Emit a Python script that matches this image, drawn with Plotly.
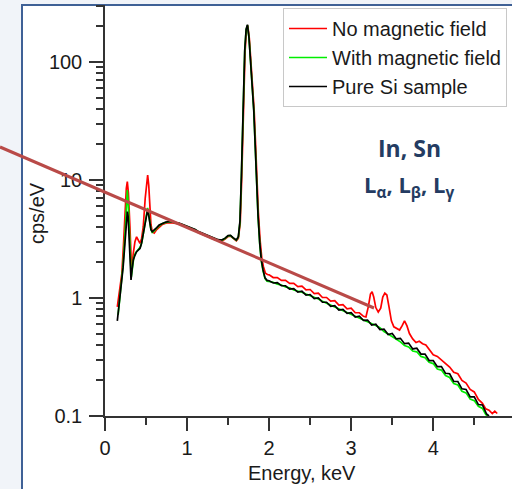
import plotly.graph_objects as go

# ---------------- data ----------------
si_energy = [0.15, 0.18, 0.20, 0.22, 0.243, 0.26, 0.272, 0.282, 0.292, 0.305, 0.317, 0.33, 0.345,
             0.365, 0.385, 0.405, 0.426, 0.445, 0.466, 0.49, 0.507, 0.52, 0.533, 0.547, 0.56, 0.576,
             0.60, 0.63, 0.66, 0.70, 0.74, 0.78, 0.82, 0.86, 0.90, 0.94, 0.98, 1.02, 1.06, 1.10,
             1.14, 1.18, 1.22, 1.26, 1.30, 1.34, 1.38, 1.42, 1.46, 1.50, 1.53, 1.56, 1.60, 1.625,
             1.645, 1.662, 1.683, 1.703, 1.72, 1.736, 1.755, 1.77, 1.785, 1.80, 1.813, 1.83, 1.845,
             1.865, 1.886, 1.905, 1.926, 1.95, 1.975,
             2.00, 2.05, 2.10, 2.15, 2.20, 2.25, 2.30, 2.35, 2.40, 2.45, 2.50, 2.55, 2.60, 2.65,
             2.70, 2.75, 2.80, 2.85, 2.90, 2.95, 3.00, 3.05, 3.10, 3.15, 3.20, 3.25, 3.30, 3.35,
             3.40, 3.45, 3.50, 3.55, 3.60, 3.65, 3.70, 3.75, 3.80, 3.85, 3.90, 3.95, 4.00, 4.05,
             4.10, 4.15, 4.20, 4.25, 4.30, 4.35, 4.40, 4.45, 4.50, 4.55, 4.60, 4.65, 4.68]
si_cps = [0.64, 0.95, 1.25, 1.8, 2.9, 4.3, 5.4, 4.9, 3.5, 2.2, 1.42, 1.75, 2.1,
          2.3, 2.47, 2.55, 2.63, 2.9, 3.5, 4.4, 5.2, 5.6, 5.0, 4.15, 3.8, 3.65,
          3.75, 3.95, 4.15, 4.3, 4.4, 4.45, 4.42, 4.38, 4.32, 4.22, 4.12, 4.02, 3.92, 3.8,
          3.65, 3.55, 3.45, 3.35, 3.25, 3.18, 3.12, 3.1, 3.2, 3.38, 3.4, 3.25, 3.1, 3.3,
          4.5, 10.7, 39, 126, 190, 207, 160, 110, 75, 52, 39, 20, 10.7,
          5.0, 2.9, 2.1, 1.73, 1.48, 1.41,
          1.40, 1.34, 1.35, 1.27, 1.27, 1.19, 1.20, 1.12, 1.14, 1.06, 1.07, 0.99, 1.00, 0.92,
          0.92, 0.85, 0.86, 0.79, 0.80, 0.74, 0.75, 0.69, 0.70, 0.645, 0.65, 0.59, 0.60, 0.54,
          0.545, 0.49, 0.50, 0.45, 0.455, 0.41, 0.415, 0.37, 0.375, 0.335, 0.335, 0.295, 0.295, 0.262,
          0.262, 0.23, 0.228, 0.196, 0.196, 0.17, 0.168, 0.145, 0.145, 0.125, 0.124, 0.104, 0.100]

mag_energy = [0.16, 0.18, 0.20, 0.22, 0.243, 0.26, 0.272, 0.285, 0.298, 0.31, 0.32, 0.335, 0.35,
              0.37, 0.39, 0.41, 0.43, 0.45, 0.47, 0.49, 0.507, 0.52, 0.533, 0.547, 0.56, 0.576,
              0.60, 0.63, 0.66, 0.70, 0.74, 0.78, 0.82, 0.86, 0.90, 0.94, 0.98, 1.02, 1.06, 1.10,
              1.14, 1.18, 1.22, 1.26, 1.30, 1.34, 1.38, 1.42, 1.46, 1.50, 1.53, 1.56, 1.60, 1.625,
              1.645, 1.662, 1.683, 1.703, 1.72, 1.736, 1.755, 1.77, 1.785, 1.80, 1.813, 1.83, 1.845,
              1.865, 1.886, 1.905, 1.926, 1.95, 1.975,
              2.00, 2.05, 2.10, 2.15, 2.20, 2.25, 2.30, 2.35, 2.40, 2.45, 2.50, 2.55, 2.60, 2.65,
              2.70, 2.75, 2.80, 2.85, 2.90, 2.95, 3.00, 3.05, 3.10, 3.15, 3.20, 3.25, 3.30, 3.35,
              3.40, 3.45, 3.50, 3.55, 3.60, 3.65, 3.70, 3.75, 3.80, 3.85, 3.90, 3.95, 4.00, 4.05,
              4.10, 4.15, 4.20, 4.25, 4.30, 4.35, 4.40, 4.45, 4.50, 4.55, 4.60, 4.64, 4.66]
mag_cps = [0.72, 0.98, 1.3, 1.9, 3.4, 5.8, 8.2, 6.0, 3.2, 1.9, 1.5, 1.8, 2.2,
           2.4, 2.5, 2.6, 2.7, 3.0, 3.6, 4.5, 5.4, 5.8, 5.1, 4.2, 3.8, 3.6,
           3.7, 3.9, 4.1, 4.28, 4.38, 4.43, 4.40, 4.36, 4.3, 4.2, 4.1, 4.0, 3.9, 3.78,
           3.63, 3.53, 3.43, 3.33, 3.23, 3.16, 3.1, 3.08, 3.18, 3.36, 3.38, 3.23, 3.08, 3.28,
           4.4, 10.5, 38, 124, 188, 205, 160, 110, 75, 52, 39, 20, 10.5,
           4.9, 2.85, 2.05, 1.7, 1.46, 1.39,
           1.38, 1.36, 1.31, 1.29, 1.24, 1.22, 1.17, 1.15, 1.12, 1.08, 1.05, 1.01, 0.98, 0.94,
           0.90, 0.87, 0.84, 0.81, 0.78, 0.76, 0.73, 0.71, 0.68, 0.66, 0.63, 0.61, 0.585, 0.56,
           0.52, 0.495, 0.47, 0.44, 0.425, 0.395, 0.385, 0.355, 0.35, 0.32, 0.312, 0.285, 0.278, 0.25,
           0.245, 0.22, 0.212, 0.188, 0.183, 0.162, 0.157, 0.139, 0.135, 0.121, 0.116, 0.103, 0.100]

nomag_energy = [0.15, 0.18, 0.205, 0.225, 0.243, 0.26, 0.272, 0.285, 0.304, 0.324, 0.345, 0.365,
                0.385, 0.405, 0.426, 0.446, 0.466, 0.49, 0.507, 0.52, 0.533, 0.547, 0.56, 0.576,
                0.60, 0.63, 0.66, 0.70, 0.74, 0.78, 0.82, 0.86, 0.90, 0.94, 0.98, 1.02, 1.06, 1.10,
                1.14, 1.18, 1.22, 1.26, 1.30, 1.34, 1.38, 1.42, 1.46, 1.50, 1.53, 1.56, 1.60, 1.625,
                1.648, 1.666, 1.687, 1.707, 1.724, 1.740, 1.759, 1.774, 1.789, 1.804, 1.817, 1.834,
                1.849, 1.869, 1.89, 1.91, 1.93, 1.955, 1.98,
                2.00, 2.05, 2.10, 2.15, 2.20, 2.25, 2.30, 2.35, 2.40, 2.45, 2.50, 2.55, 2.60, 2.65,
                2.70, 2.75, 2.80, 2.85, 2.90, 2.95, 3.00, 3.05, 3.10, 3.15, 3.18, 3.21, 3.235, 3.255,
                3.275, 3.30, 3.33, 3.36, 3.385, 3.41, 3.435, 3.46, 3.49, 3.52, 3.56, 3.59, 3.62, 3.65,
                3.68, 3.71, 3.75, 3.79, 3.83, 3.87, 3.91, 3.95, 4.00, 4.05, 4.10, 4.15, 4.20, 4.25,
                4.30, 4.35, 4.40, 4.45, 4.50, 4.55, 4.60, 4.64, 4.68, 4.72, 4.75, 4.78]
nomag_cps = [0.84, 1.17, 1.6, 2.8, 5.6, 8.5, 9.7, 7.8, 4.0, 1.73, 2.4, 3.0,
             3.3, 3.1, 2.9, 3.2, 4.0, 7.0, 10.0, 11.0, 9.0, 5.6, 4.2, 3.65,
             3.55, 3.8, 4.0, 4.2, 4.3, 4.35, 4.32, 4.3, 4.25, 4.15, 4.05, 3.95, 3.85, 3.72,
             3.58, 3.48, 3.38, 3.28, 3.18, 3.12, 3.06, 3.04, 3.14, 3.32, 3.34, 3.2, 3.05, 3.2,
             4.3, 10.2, 37, 122, 186, 203, 158, 110, 76, 53, 40, 21, 11.2,
             5.3, 3.1, 2.2, 1.85, 1.62, 1.58,
             1.57, 1.49, 1.49, 1.41, 1.41, 1.33, 1.33, 1.25, 1.26, 1.17, 1.18, 1.09, 1.10, 1.01,
             1.01, 0.94, 0.95, 0.87, 0.88, 0.81, 0.82, 0.75, 0.75, 0.70, 0.69, 0.85, 1.08, 1.13,
             1.02, 0.83, 0.76, 0.82, 1.02, 1.10, 1.06, 0.85, 0.64, 0.57, 0.55, 0.535, 0.58, 0.64,
             0.58, 0.50, 0.45, 0.42, 0.43, 0.41, 0.40, 0.37, 0.33, 0.32, 0.30, 0.28, 0.26, 0.235,
             0.228, 0.2, 0.19, 0.168, 0.16, 0.138, 0.128, 0.115, 0.112, 0.105, 0.11, 0.105]

series_names = ["No magnetic field", "With magnetic field", "Pure Si sample"]
series_colors = ["#ff0000", "#00ee00", "#000000"]

y_tick_vals = [0.1, 1, 10, 100]
y_tick_text = ["0.1", "1", "10", "100"]
y_minor_vals = [m * d for d in (0.1, 1, 10, 100) for m in range(2, 10) if m * d < 310]
x_tick_vals = [0, 1, 2, 3, 4, 5]
x_minor_vals = [0.5, 1.5, 2.5, 3.5, 4.5]

# ---------------- figure ----------------
W, H = 512, 489
L, R, T, B = 105, 0, 5, 73
pw, ph = W - L - R, H - T - B


def px(x):
    return (x - L) / pw


def py(y):
    return (H - B - y) / ph


fig = go.Figure()
for name, color, xs, ys in zip(series_names, series_colors,
                               [nomag_energy, mag_energy, si_energy],
                               [nomag_cps, mag_cps, si_cps]):
    fig.add_trace(go.Scatter(x=xs, y=ys, mode="lines", name=name,
                             line=dict(color=color, width=1.7)))

font_main = "Liberation Sans, Arial, sans-serif"
axis_col = "#333333"

fig.update_layout(
    width=W, height=H,
    margin=dict(l=L, r=R, t=T, b=B, pad=0),
    paper_bgcolor="#f1f4f9",
    plot_bgcolor="white",
    font=dict(family=font_main, size=20, color="#1a1a1a"),
    showlegend=True,
    legend=dict(x=px(283), y=py(8), xanchor="left", yanchor="top",
                bgcolor="white", bordercolor="#c8c8c8", borderwidth=1,
                itemwidth=38,
                font=dict(family=font_main, size=20, color="#1a1a1a"),
                tracegroupgap=0),
    xaxis=dict(range=[0, 4.96], showgrid=False, zeroline=False, automargin=False,
               showline=True, linecolor=axis_col, linewidth=1.5,
               tickmode="array", tickvals=x_tick_vals, ticktext=[str(v) for v in x_tick_vals],
               ticks="outside", ticklen=13, tickwidth=1.5, tickcolor=axis_col,
               minor=dict(tickmode="array", tickvals=x_minor_vals, ticks="outside",
                          ticklen=7, tickwidth=1.5, tickcolor=axis_col, showgrid=False),
               tickfont=dict(size=20)),
    yaxis=dict(type="log", range=[-1, 2.483], showgrid=False, zeroline=False, automargin=False,
               showline=True, linecolor=axis_col, linewidth=1.5,
               tickmode="array", tickvals=y_tick_vals, ticktext=y_tick_text,
               ticks="outside", ticklen=14, tickwidth=1.5, tickcolor=axis_col,
               ticklabelstandoff=3,
               minor=dict(tickmode="array", tickvals=y_minor_vals, ticks="outside",
                          ticklen=7, tickwidth=1.5, tickcolor=axis_col, showgrid=False),
               tickfont=dict(size=20)),
)

# slide frame (blue border, white inside)
fig.add_shape(type="rect", xref="paper", yref="paper",
              x0=px(22), x1=px(530), y0=py(520), y1=py(5),
              line=dict(color="#3f6196", width=2), fillcolor="white", layer="below")

# diagonal slide line
fig.add_shape(type="line", xref="paper", yref="paper",
              x0=px(0), y0=py(147), x1=px(374), y1=py(308),
              line=dict(color="#b94a48", width=3), layer="above")

# axis titles
fig.add_annotation(text="cps/eV", xref="paper", yref="paper", x=px(37), y=py(213),
                   showarrow=False, textangle=-90, xanchor="center", yanchor="middle",
                   font=dict(family=font_main, size=20, color="#1a1a1a"))
fig.add_annotation(text="Energy, keV", xref="paper", yref="paper", x=px(302), y=py(473),
                   showarrow=False, xanchor="center", yanchor="middle",
                   font=dict(family=font_main, size=20, color="#1a1a1a"))

# element labels
navy = "#243c62"
fig.add_annotation(text="<b>In, Sn</b>", xref="paper", yref="paper", x=px(409), y=py(148),
                   showarrow=False, xanchor="center", yanchor="middle",
                   font=dict(family="Open Sans, sans-serif", size=23, color=navy))
fig.add_annotation(text="<b>L<sub>α</sub>, L<sub>β</sub>, L<sub>γ</sub></b>", xref="paper", yref="paper",
                   x=px(409), y=py(186), showarrow=False, xanchor="center", yanchor="middle",
                   font=dict(family="Open Sans, sans-serif", size=22, color=navy))

fig.write_html("out.html", config={"displayModeBar": False},
               post_script="document.body.style.margin='0';document.body.style.overflow='hidden';")
